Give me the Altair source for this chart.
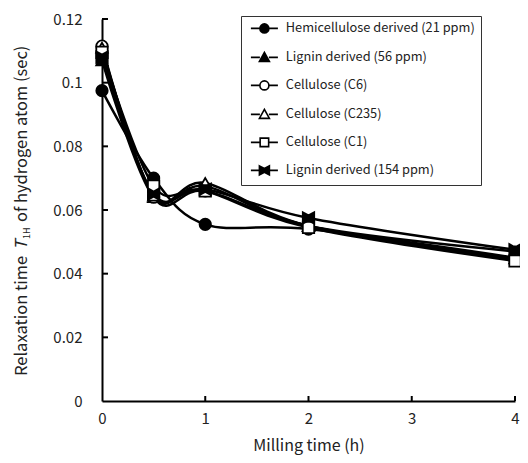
import math
import altair as alt
import pandas as pd

# ---------------- data ----------------
milling_time = [0, 0.5, 1, 2, 4]
series_names = [
    "Hemicellulose derived (21 ppm)",
    "Lignin derived (56 ppm)",
    "Cellulose (C6)",
    "Cellulose (C235)",
    "Cellulose (C1)",
    "Lignin derived (154 ppm)",
]
hemicellulose_21 = [0.0975, 0.0700, 0.0555, 0.0540, 0.0450]
lignin_56 = [0.1070, 0.0640, 0.0675, 0.0550, 0.0470]
cellulose_c6 = [0.1115, 0.0640, 0.0660, 0.0550, 0.0445]
cellulose_c235 = [0.1110, 0.0645, 0.0685, 0.0550, 0.0448]
cellulose_c1 = [0.1095, 0.0675, 0.0660, 0.0545, 0.0440]
lignin_154 = [0.1080, 0.0650, 0.0665, 0.0575, 0.0475]
series_values = [hemicellulose_21, lignin_56, cellulose_c6, cellulose_c235, cellulose_c1, lignin_154]

x_ticks = [0, 1, 2, 3, 4]
y_ticks = [0, 0.02, 0.04, 0.06, 0.08, 0.1, 0.12]

# ---------------- styling ----------------
FONT = "Noto Sans CJK JP"
W, H = 413, 382

BOWTIE = "M-1,-1L0,-0.45L1,-1L1,1L0,0.45L-1,1Z"
marker_paths = ["circle", "triangle-up", "circle", "triangle-up", "square", BOWTIE]
marker_fills = ["black", "black", "white", "white", "white", "black"]

# legend symbols: line wings + marker (filled markers hatched densely so the stroke fills them)
def f(v):
    return f"{v:.3f}"

WING = "M-2.7,0H-0.9M0.9,0H2.7"
CIRC = "M-0.9,0A0.9,0.9 0 1,0 0.9,0A0.9,0.9 0 1,0 -0.9,0Z"
TRI = "M0,-1L1,0.8L-1,0.8Z"
SQ = "M-0.85,-0.85H0.85V0.85H-0.85Z"
BOW = "M-1,-0.9L0,-0.4L1,-0.9L1,0.9L0,0.4L-1,0.9Z"
steps = [-0.75, -0.5, -0.25, 0.0, 0.25, 0.5, 0.75]
circ_fill = "".join(
    f"M{f(-math.sqrt(0.81 - y * y))},{f(y)}H{f(math.sqrt(0.81 - y * y))}" for y in steps
)
tri_fill = "".join(
    f"M{f(-(y + 1) / 1.8)},{f(y)}H{f((y + 1) / 1.8)}" for y in steps
)
bow_fill = "".join(
    f"M{f(x)},{f(-0.4 - 0.5 * abs(x))}V{f(0.4 + 0.5 * abs(x))}" for x in steps + [-0.95, 0.95]
)
legend_paths = [
    WING + CIRC + circ_fill,
    WING + TRI + tri_fill,
    WING + CIRC,
    WING + TRI,
    WING + SQ,
    WING + BOW + bow_fill,
]

rows = []
for name, vals in zip(series_names, series_values):
    for t, v in zip(milling_time, vals):
        rows.append({"series": name, "t": t, "v": v})
df = pd.DataFrame(rows)

x_enc = alt.X(
    "t:Q",
    scale=alt.Scale(domain=[0, 4], nice=False, zero=False),
    axis=alt.Axis(
        values=x_ticks, tickSize=0, grid=False, title="Milling time (h)", format="d",
        labelFlush=False, labelPadding=10, titlePadding=11, labelFontSize=15, titleFontSize=16,
        domainColor="black", domainWidth=2, labelColor="#222", titleColor="#222",
        labelFont=FONT, titleFont=FONT, titleFontWeight="normal",
    ),
)
y_enc = alt.Y(
    "v:Q",
    scale=alt.Scale(domain=[0, 0.12], nice=False),
    axis=alt.Axis(
        values=y_ticks, tickSize=0, grid=False, title=None, format="~f",
        labelFlush=False, labelPadding=20, labelFontSize=15, domainColor="black", domainWidth=2,
        labelColor="#222", labelFont=FONT,
    ),
)

lines = alt.Chart(df).mark_line(
    interpolate="cardinal", color="black", strokeWidth=2.5
).encode(x=x_enc, y=y_enc, detail="series:N")

points = alt.Chart(df).mark_point(
    filled=True, stroke="black", strokeWidth=1.8, opacity=1, size=130
).encode(
    x="t:Q",
    y="v:Q",
    shape=alt.Shape("series:N", scale=alt.Scale(domain=series_names, range=marker_paths), legend=None),
    fill=alt.Fill("series:N", scale=alt.Scale(domain=series_names, range=marker_fills), legend=None),
)

legend = alt.Legend(
    title=None, orient="none", legendX=139, legendY=-3,
    strokeColor="#333", fillColor="white", padding=6,
    symbolSize=100, symbolStrokeWidth=1.6, symbolOffset=11, labelOffset=15,
    labelFontSize=12.8, labelFont=FONT, labelColor="#222", rowPadding=12,
    labelLimit=400, symbolFillColor="white",
)

legend_layer = alt.Chart(df).mark_point(
    stroke="black", strokeWidth=1.6, opacity=0
).encode(
    x="t:Q",
    y="v:Q",
    shape=alt.Shape("series:N", scale=alt.Scale(domain=series_names, range=legend_paths), legend=legend, sort=series_names),
)

xt = pd.DataFrame({"t": x_ticks[1:]})
yt = pd.DataFrame({"v": y_ticks[1:]})
x_tick_marks = alt.Chart(xt).mark_rule(color="black", strokeWidth=2).encode(
    x="t:Q", y=alt.value(H), y2=alt.value(H - 5)
)
y_tick_marks = alt.Chart(yt).mark_rule(color="black", strokeWidth=2).encode(
    y="v:Q", x=alt.value(0), x2=alt.value(6)
)

# rotated y-axis title with italic T and subscript 1H
TS = 16.5
t1 = alt.Chart(pd.DataFrame({"txt": ["Relaxation time"]})).mark_text(
    angle=270, align="left", baseline="alphabetic", font=FONT, fontSize=TS, color="#222"
).encode(text="txt:N", x=alt.value(-75), y=alt.value(357))
t2 = alt.Chart(pd.DataFrame({"txt": ["T"]})).mark_text(
    angle=270, align="left", baseline="alphabetic", font=FONT, fontSize=TS,
    fontStyle="italic", color="#222"
).encode(text="txt:N", x=alt.value(-75), y=alt.value(231))
t3 = alt.Chart(pd.DataFrame({"txt": ["1H"]})).mark_text(
    angle=270, align="left", baseline="alphabetic", font=FONT, fontSize=9, color="#222"
).encode(text="txt:N", x=alt.value(-72), y=alt.value(220))
t4 = alt.Chart(pd.DataFrame({"txt": ["of hydrogen atom (sec)"]})).mark_text(
    angle=270, align="left", baseline="alphabetic", font=FONT, fontSize=TS, color="#222"
).encode(text="txt:N", x=alt.value(-75), y=alt.value(203))

chart = alt.layer(
    lines, points, legend_layer, x_tick_marks, y_tick_marks, t1, t2, t3, t4
).resolve_scale(
    shape="independent"
).properties(
    width=W, height=H,
    autosize=alt.AutoSizeParams(type="none"),
    padding={"left": 94, "top": 11, "right": 5, "bottom": 54},
).configure_view(stroke=None)

chart.save("out.html", embed_options={"renderer": "svg", "actions": False})
